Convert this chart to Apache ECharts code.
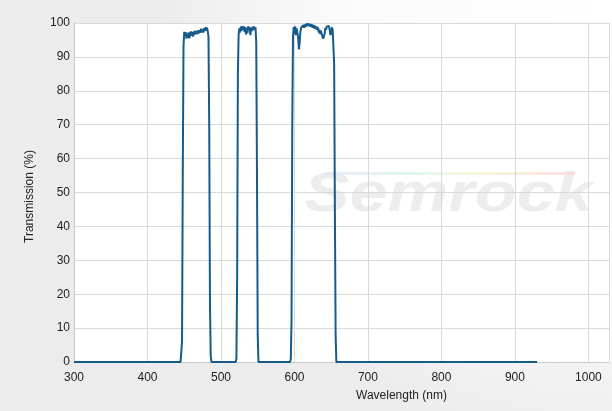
<!DOCTYPE html>
<html>
<head>
<meta charset="utf-8">
<script src="https://cdn.jsdelivr.net/npm/echarts@6/dist/echarts.min.js"></script>
<style>
  html, body { margin: 0; padding: 0; background: #fff; }
  #chart { width: 612px; height: 411px; }
</style>
</head>
<body>
<div id="chart"></div>
<script>
// transmission curve (nm / %)
const band1Nm = [300, 400, 445, 446, 447, 448, 449, 450, 451, 452, 453, 454, 455, 456, 457, 458, 459, 460, 461, 462, 463, 464, 465, 466, 467, 468, 469, 470, 471, 472, 473, 474, 475, 476, 477, 478, 479, 480, 481, 482, 483, 484, 485, 486, 487];
const band1T = [0, 0, 0, 0.5, 6, 55, 93, 97.4, 96.2, 97.3, 95.4, 96.8, 95.6, 97.2, 95.5, 96.8, 97.5, 96.2, 97.3, 96, 97.5, 96.5, 97.7, 96.8, 97.6, 96.7, 97.9, 97, 97.9, 97.1, 98.3, 97.3, 98.1, 97.2, 98.5, 97.6, 98.8, 97.8, 98.6, 97.6, 96, 70, 18, 2, 0];

const band2Nm = [500, 520, 521, 522, 523, 524, 525, 526, 527, 528, 529, 530, 531, 532, 533, 534, 535, 536, 537, 538, 539, 540, 541, 542, 543, 544, 545, 546, 547, 548, 549, 550, 551, 570];
const band2T = [0, 0, 1, 25, 85, 96.5, 98.4, 97.2, 98.9, 97.7, 99.1, 98, 99, 97.4, 98.8, 96.6, 98.6, 97, 99, 97.9, 98.9, 96.4, 98.5, 97.6, 98.9, 97.9, 99, 98, 98.7, 94, 55, 8, 0, 0];

const band3Nm = [594, 595, 596, 597, 598, 599, 600, 601, 602, 603, 604, 605, 606, 607, 608, 609, 610, 611, 612, 613, 614, 615, 616, 617, 618, 619, 620, 621, 622, 623, 624, 625, 626, 627, 628, 629, 630, 631, 632, 633, 634, 635, 636, 637, 638, 639, 640, 641, 642, 643, 644, 645, 646, 647, 648, 649, 650, 651, 652, 653, 654, 655, 656, 657];
const band3T = [0, 0.8, 12, 70, 96, 98.8, 96.8, 99, 96.4, 98.4, 98.8, 95.8, 92.2, 94, 97.2, 98.6, 99, 98.2, 99.4, 98.6, 99.6, 98.8, 99.8, 99, 99.9, 99.2, 99.8, 99, 99.7, 98.8, 99.6, 98.6, 99.4, 98.4, 99.2, 98.2, 99, 98, 98.7, 97.2, 98, 96.7, 97.7, 96.8, 96.6, 95.4, 95.1, 96.8, 98.6, 98, 99, 99.3, 98.5, 99.1, 97.8, 96.4, 97.5, 98.7, 98, 97.5, 88, 45, 8, 0];

// flat blocking region up to the end of the trace
const tailNm = [700, 750, 800, 850, 900, 930];
const tailT = [0, 0, 0, 0, 0, 0];

const xTicks = [300, 400, 500, 600, 700, 800, 900, 1000];

let curve = [];
[[band1Nm, band1T], [band2Nm, band2T], [band3Nm, band3T], [tailNm, tailT]].forEach((b) => {
  b[0].forEach((nm, i) => {
    curve.push([nm, b[1][i]]);
  });
});

const font = '12px Liberation Sans, Arial, sans-serif';

let myChart = echarts.init(document.getElementById('chart'), null, { renderer: 'canvas' });
myChart.setOption({
  animation: false,
  textStyle: { fontFamily: 'Liberation Sans, Arial, sans-serif' },
  grid: {
    left: 74,
    top: 23,
    right: 0,
    bottom: 49
  },
  graphic: [
    {
      // soft grey wash behind the whole chart
      type: 'rect',
      z: -10,
      silent: true,
      shape: { x: 0, y: 0, width: 612, height: 411 },
      style: {
        fill: new echarts.graphic.RadialGradient(1, 0, 1.1, [
          { offset: 0, color: '#ffffff' },
          { offset: 0.6, color: '#fbfbfb' },
          { offset: 1, color: '#ececec' }
        ])
      }
    },
    {
      // white plot area
      type: 'rect',
      z: -8,
      silent: true,
      shape: { x: 74, y: 23, width: 538, height: 339 },
      style: { fill: '#fff' }
    },
    {
      // watermark
      type: 'text',
      z: -6,
      silent: true,
      x: 304,
      y: 196,
      scaleX: 1.22,
      style: {
        text: 'Semrock',
        fill: '#ededed',
        verticalAlign: 'middle',
        font: 'italic bold 56px Liberation Sans, Arial, sans-serif'
      }
    },
    {
      type: 'rect',
      z: -6,
      silent: true,
      shape: { x: 325, y: 172, width: 250, height: 3 },
      style: {
        fill: new echarts.graphic.LinearGradient(0, 0, 1, 0, [
          { offset: 0, color: 'rgba(225,225,250,0.6)' },
          { offset: 0.35, color: 'rgba(210,245,230,0.7)' },
          { offset: 0.6, color: 'rgba(245,245,205,0.7)' },
          { offset: 1, color: 'rgba(250,210,210,0.7)' }
        ])
      }
    },
    {
      type: 'text',
      silent: true,
      left: 356,
      top: 390,
      style: { text: 'Wavelength (nm)', fill: '#222', font: font }
    },
    {
      type: 'text',
      silent: true,
      rotation: Math.PI / 2,
      x: 24,
      y: 243,
      style: { text: 'Transmission (%)', fill: '#222', font: font }
    }
  ],
  xAxis: {
    type: 'value',
    min: 300,
    max: 1028,
    interval: 100,
    axisLine: { show: true, onZero: false, lineStyle: { color: '#c8c8c8' } },
    axisTick: { show: false },
    axisLabel: {
      color: '#222',
      fontSize: 12,
      margin: 10,
      formatter: (v) => (xTicks.indexOf(v) > -1 ? String(v) : '')
    },
    splitLine: { show: true, lineStyle: { color: '#d9d9d9' } }
  },
  yAxis: {
    type: 'value',
    min: 0,
    max: 100,
    interval: 10,
    axisLine: { show: true, lineStyle: { color: '#c8c8c8' } },
    axisTick: { show: false },
    axisLabel: { color: '#222', fontSize: 12, margin: 4 },
    splitLine: { show: true, lineStyle: { color: '#d9d9d9' } }
  },
  series: [
    {
      type: 'line',
      showSymbol: false,
      smooth: false,
      clip: false,
      z: 5,
      lineStyle: { color: '#175a8c', width: 2 },
      data: curve
    }
  ]
});
</script>
</body>
</html>
